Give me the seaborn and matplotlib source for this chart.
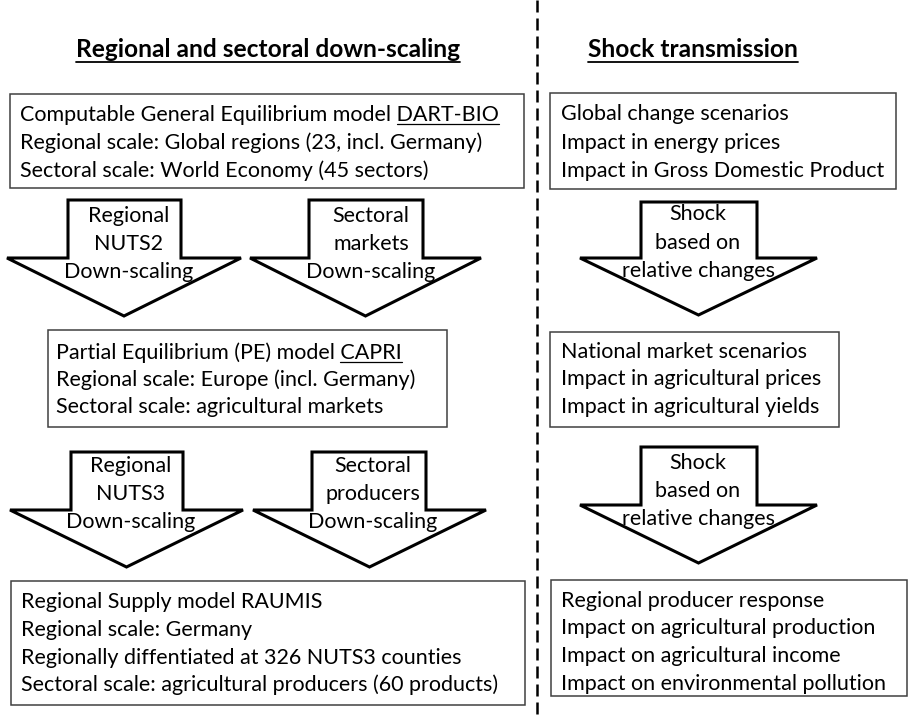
import matplotlib
matplotlib.use("Agg")
import matplotlib.pyplot as plt
import seaborn as sns
from matplotlib.patches import Polygon, Rectangle

sns.set_theme(style="white")
plt.rcParams["font.family"] = ["Lato", "DejaVu Sans"]

# --- texts ---
left_title = "Regional and sectoral down-scaling"
right_title = "Shock transmission"

cge_lines = ["Computable General Equilibrium model DART-BIO",
             "Regional scale: Global regions (23, incl. Germany)",
             "Sectoral scale: World Economy (45 sectors)"]
pe_lines = ["Partial Equilibrium (PE) model CAPRI",
            "Regional scale: Europe (incl. Germany)",
            "Sectoral scale: agricultural markets"]
raumis_lines = ["Regional Supply model RAUMIS",
                "Regional scale: Germany",
                "Regionally diffentiated at 326 NUTS3 counties",
                "Sectoral scale: agricultural producers (60 products)"]
global_lines = ["Global change scenarios",
                "Impact in energy prices",
                "Impact in Gross Domestic Product"]
national_lines = ["National market scenarios",
                  "Impact in agricultural prices",
                  "Impact in agricultural yields"]
regional_lines = ["Regional producer response",
                  "Impact on agricultural production",
                  "Impact on agricultural income",
                  "Impact on environmental pollution"]

nuts2_arrow = ["Regional", "NUTS2", "Down-scaling"]
markets_arrow = ["Sectoral", "markets", "Down-scaling"]
nuts3_arrow = ["Regional", "NUTS3", "Down-scaling"]
producers_arrow = ["Sectoral", "producers", "Down-scaling"]
shock_arrow = ["Shock", "based on", "relative changes"]

# --- layout (pixels, y downwards) ---
# box: (x0, x1, y0, y1, text_x, baselines, lines, underlined word)
boxes = [
    (10, 524, 94, 188, 20, [121, 149, 177], cge_lines, "DART-BIO"),
    (48, 447, 330, 427, 56, [359, 386, 413], pe_lines, "CAPRI"),
    (11, 525, 581, 705, 21, [608, 636, 664, 691], raumis_lines, None),
    (550, 896, 93, 189, 561, [120, 149, 177], global_lines, None),
    (550, 839, 332, 427, 561, [358, 385, 413], national_lines, None),
    (551, 907, 580, 696, 561, [607, 634, 662, 690], regional_lines, None),
]
# arrow: (shaft_l, shaft_r, top, base, head_l, head_r, tip_y, text_x, baselines, lines)
arrows = [
    (68, 181, 200, 258, 7, 241, 316, 129, [222, 250, 278], nuts2_arrow),
    (309, 423, 200, 258, 250, 481, 316, 371, [222, 250, 278], markets_arrow),
    (71, 183, 452, 510, 10, 243, 567, 131, [472, 500, 528], nuts3_arrow),
    (312, 426, 452, 510, 253, 486, 567, 373, [472, 500, 528], producers_arrow),
    (641, 757, 202, 258, 580, 817, 315, 698, [220, 249, 277], shock_arrow),
    (641, 757, 447, 505, 580, 817, 563, 698, [469, 497, 525], shock_arrow),
]

fig = plt.figure(figsize=(9.09, 7.17), dpi=100)
ax = fig.add_axes([0, 0, 1, 1])
ax.set_xlim(0, 909)
ax.set_ylim(717, 0)
ax.axis("off")
renderer = fig.canvas.get_renderer()


def text_width(s, size, weight="normal"):
    t = ax.text(0, 0, s, fontsize=size, fontweight=weight)
    w = t.get_window_extent(renderer).width
    t.remove()
    return w


body_size = 10 * 323 / text_width("Impact in Gross Domestic Product", 10)
title_size = 10 * 210 / text_width(right_title, 10, "bold")

# titles with underline
for title, cx in [(left_title, 268), (right_title, 693)]:
    ax.text(cx, 57, title, fontsize=title_size, fontweight="bold",
            ha="center", va="baseline", color="black")
    w = text_width(title, title_size, "bold")
    ax.plot([cx - w / 2, cx + w / 2], [62, 62], color="black", lw=1.3)

# boxes
for x0, x1, y0, y1, tx, ys, lines, word in boxes:
    ax.add_patch(Rectangle((x0, y0), x1 - x0, y1 - y0, facecolor="white",
                           edgecolor="#404040", lw=1.1))
    for y, line in zip(ys, lines):
        ax.text(tx, y, line, fontsize=body_size, va="baseline", color="black")
    if word:
        full = text_width(lines[0], body_size)
        w = text_width(word, body_size)
        ax.plot([tx + full - w, tx + full], [ys[0] + 3, ys[0] + 3],
                color="black", lw=0.9)

# block arrows
for sl, sr, top, base, hl, hr, tip, tx, ys, lines in arrows:
    pts = [(sl, top), (sr, top), (sr, base), (hr, base),
           ((hl + hr) / 2, tip), (hl, base), (sl, base)]
    ax.add_patch(Polygon(pts, closed=True, facecolor="white",
                         edgecolor="black", lw=2.2, joinstyle="miter"))
    for y, line in zip(ys, lines):
        ax.text(tx, y, line, fontsize=body_size, ha="center", va="baseline",
                color="black", zorder=5)

# dashed separator
ax.plot([537, 537], [0, 717], color="black", lw=1.8, ls=(0, (4.8, 2.4)))

fig.savefig("out.png", dpi=100, facecolor="white")
